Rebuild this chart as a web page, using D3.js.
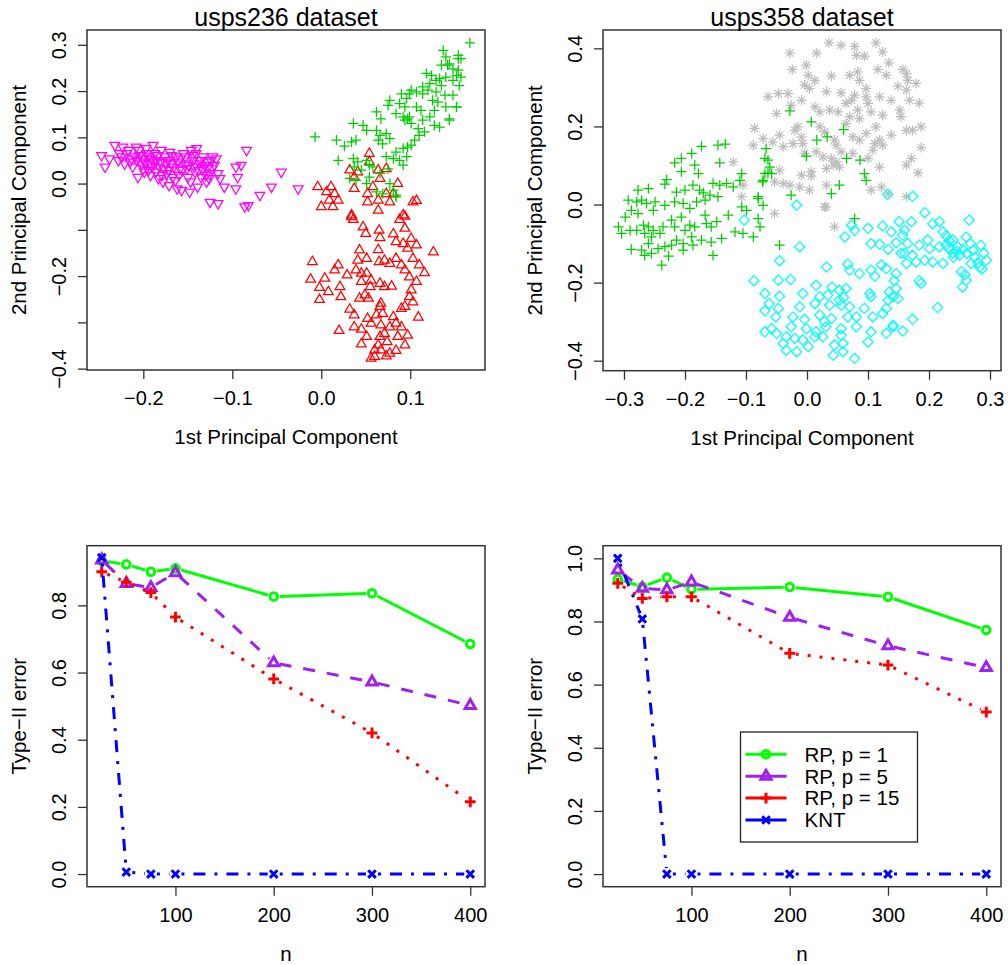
<!DOCTYPE html>
<html>
<head>
<meta charset="utf-8">
<script src="https://cdn.jsdelivr.net/npm/d3@7"></script>
<style>
body { margin: 0; background: #fff; }
svg { display: block; font-family: "Liberation Sans", Arial, Helvetica, sans-serif; }
</style>
</head>
<body>
<svg width="1008" height="965"></svg>
<script>
// ---- usps236: first two principal components, one array per digit class ----
var pc236Magenta = [
  [-0.247,0.061],[-0.243,0.036],[-0.238,0.054],[-0.232,0.083],[-0.227,0.065],[-0.223,0.079],[-0.221,0.043],[-0.217,0.072],
  [-0.213,0.054],[-0.212,0.036],[-0.208,0.079],[-0.206,0.014],[-0.204,0.061],[-0.202,0.043],[-0.199,0.025],[-0.197,0.076],
  [-0.195,0.058],[-0.193,0.043],[-0.189,0.083],[-0.187,0.065],[-0.185,0.050],[-0.182,0.036],[-0.178,0.004],[-0.176,0.058],
  [-0.174,0.022],[-0.170,0.068],[-0.169,0.043],[-0.167,0.014],[-0.163,0.058],[-0.159,0.032],[-0.157,-0.014],[-0.155,0.065],
  [-0.152,0.043],[-0.150,0.014],[-0.146,0.072],[-0.144,0.050],[-0.142,0.025],[-0.140,0.076],[-0.139,-0.007],[-0.137,0.043],
  [-0.135,0.014],[-0.133,0.058],[-0.129,0.004],[-0.127,0.036],[-0.125,0.022],[-0.124,0.050],[-0.122,0.058],[-0.118,0.054],
  [-0.116,0.022],[-0.114,0.011],[-0.109,-0.007],[-0.125,-0.040],[-0.116,-0.043],[-0.096,0.036],[-0.094,0.014],[-0.096,-0.011],
  [-0.090,0.040],[-0.084,0.072],[-0.069,-0.025],[-0.086,-0.050],[-0.082,-0.047],[-0.056,-0.007],[-0.045,0.025],[-0.026,-0.011],
  [-0.228,0.050],[-0.224,0.058],[-0.219,0.065],[-0.215,0.047],[-0.210,0.058],[-0.207,0.050],[-0.205,0.072],[-0.201,0.054],
  [-0.200,0.032],[-0.198,0.047],[-0.196,0.065],[-0.194,0.029],[-0.191,0.054],[-0.190,0.036],[-0.188,0.047],[-0.186,0.025],
  [-0.184,0.061],[-0.181,0.047],[-0.180,0.072],[-0.177,0.032],[-0.175,0.045],[-0.172,0.050],[-0.171,0.029],[-0.168,0.061],
  [-0.166,0.036],[-0.164,0.007],[-0.161,0.047],[-0.160,0.018],[-0.158,0.054],[-0.156,0.029],[-0.153,0.058],[-0.151,0.032],
  [-0.149,0.040],[-0.147,0.004],[-0.145,0.061],[-0.143,0.036],[-0.141,0.065],[-0.138,0.029],[-0.136,0.050],[-0.134,0.032],
  [-0.131,0.040],[-0.130,0.018],[-0.128,0.047],[-0.126,0.011],[-0.123,0.032],[-0.120,0.040],[-0.171,-0.004],[-0.162,-0.011],
  [-0.148,-0.018],[-0.183,0.011],[-0.192,0.018],[-0.179,0.018]
];

var pc236Red = [
  [0.054,0.065],[0.032,0.029],[0.037,0.014],[0.041,0.025],[0.054,0.047],[0.064,0.029],[0.073,0.032],[0.066,0.011],
  [0.037,-0.011],[-0.004,-0.007],[0.006,-0.018],[0.011,-0.007],[0.015,-0.022],[0.019,-0.036],[0.009,-0.036],[0.000,-0.050],
  [0.013,-0.050],[0.052,-0.022],[0.058,-0.007],[0.064,-0.036],[0.052,-0.040],[0.073,-0.022],[0.077,-0.040],[0.086,0.000],
  [0.081,-0.022],[0.103,-0.040],[0.107,-0.037],[0.064,-0.058],[0.034,-0.068],[0.092,-0.068],
  [0.034,-0.072],[0.036,-0.078],[0.047,-0.094],[0.050,-0.108],[0.065,-0.101],[0.066,-0.117],[0.088,-0.078],[0.094,-0.071],
  [0.094,-0.097],[0.081,-0.109],[0.084,-0.126],[0.092,-0.130],[0.101,-0.119],[0.107,-0.133],[0.097,-0.140],[0.126,-0.148],
  [0.043,-0.144],[0.064,-0.143],[0.041,-0.166],[0.051,-0.162],[-0.010,-0.169],[0.019,-0.176],[0.015,-0.187],[0.029,-0.198],
  [0.039,-0.187],[0.045,-0.194],[0.051,-0.194],[0.065,-0.169],[0.071,-0.166],[0.077,-0.173],[0.084,-0.162],[0.090,-0.176],
  [0.094,-0.187],[0.103,-0.162],[0.110,-0.176],[0.116,-0.193],[0.099,-0.202],[0.107,-0.212],[-0.012,-0.207],[0.004,-0.205],
  [-0.002,-0.225],[0.008,-0.234],[0.021,-0.223],[0.022,-0.245],[-0.002,-0.251],[0.045,-0.212],[0.056,-0.209],[0.066,-0.216],
  [0.071,-0.223],[0.079,-0.222],[0.055,-0.223],[0.049,-0.241],[0.053,-0.248],[0.043,-0.248],[0.101,-0.230],[0.099,-0.245],
  [0.103,-0.256],[0.094,-0.266],[0.067,-0.259],[0.066,-0.266],[0.032,-0.272],[0.037,-0.284],[0.052,-0.292],[0.062,-0.284],
  [0.069,-0.281],[0.081,-0.288],[0.090,-0.270],[0.109,-0.289],[0.020,-0.318],[0.037,-0.310],[0.045,-0.315],[0.056,-0.302],
  [0.067,-0.306],[0.077,-0.310],[0.084,-0.302],[0.090,-0.310],[0.097,-0.328],[0.086,-0.331],[0.066,-0.331],[0.071,-0.324],
  [0.051,-0.331],[0.045,-0.347],[0.064,-0.349],[0.074,-0.342],[0.094,-0.349],[0.060,-0.360],[0.067,-0.360],[0.077,-0.367],
  [0.084,-0.361],[0.060,-0.374],[0.073,-0.373],[0.056,-0.378]
];

var pc236Green = [
  [0.167,0.304],[0.137,0.288],[0.140,0.274],[0.154,0.277],[0.157,0.270],[0.144,0.259],[0.135,0.256],[0.148,0.248],
  [0.154,0.245],[0.152,0.234],[0.140,0.230],[0.129,0.223],[0.124,0.234],[0.118,0.238],[0.122,0.216],[0.135,0.212],
  [0.148,0.223],[0.155,0.212],[0.114,0.209],[0.101,0.202],[0.107,0.198],[0.099,0.194],[0.090,0.194],[0.096,0.184],
  [0.120,0.202],[0.129,0.198],[0.139,0.191],[0.131,0.176],[0.127,0.158],[0.140,0.166],[0.152,0.166],[0.107,0.166],
  [0.112,0.158],[0.122,0.144],[0.094,0.166],[0.088,0.173],[0.077,0.180],[0.075,0.169],[0.084,0.151],[0.092,0.144],
  [0.097,0.140],[0.101,0.130],[0.109,0.119],[0.116,0.112],[0.127,0.126],[0.133,0.122],[0.144,0.137],[0.114,0.137],
  [0.062,0.155],[0.067,0.140],[0.036,0.130],[0.047,0.126],[0.051,0.115],[0.062,0.115],[0.066,0.104],[0.073,0.108],
  [0.064,0.094],[0.077,0.097],[0.069,0.086],[0.039,0.094],[0.034,0.090],[0.017,0.094],[0.026,0.081],[-0.007,0.101],
  [0.019,0.050],[0.036,0.054],[0.041,0.047],[0.051,0.050],[0.054,0.040],[0.045,0.029],[0.058,0.036],[0.073,0.058],
  [0.081,0.054],[0.084,0.068],[0.092,0.076],[0.097,0.079],[0.101,0.083],[0.105,0.094],[0.110,0.104],[0.096,0.058],
  [0.088,0.050],[0.092,0.040],[0.075,0.032],[0.066,0.022],[0.054,0.014],[0.039,0.007],[0.062,-0.018],[0.069,-0.022],
  [0.077,0.000],[0.081,-0.014],[0.084,-0.025],[0.032,0.011],[0.037,0.036],[0.051,0.000],[0.084,-0.029],
  [0.133,0.227],[0.142,0.256],[0.154,0.270],[0.157,0.230],[0.148,0.191],[0.125,0.180],[0.114,0.194],[0.099,0.144],
  [0.094,0.137],[0.144,0.140],[0.152,0.166]
];

// ---- usps358 ----
var pc358Grey = [
  [-0.028,0.388],[0.016,0.388],[0.036,0.414],[0.056,0.408],[0.078,0.405],[0.081,0.382],[0.094,0.380],[0.113,0.414],
  [0.124,0.391],[-0.024,0.346],[-0.001,0.357],[0.002,0.331],[0.013,0.318],[-0.004,0.306],[0.004,0.297],[0.032,0.289],
  [0.040,0.329],[0.070,0.331],[0.083,0.340],[0.086,0.318],[0.097,0.297],[0.116,0.346],[0.130,0.331],[0.134,0.363],
  [0.157,0.346],[0.163,0.335],[0.165,0.318],[0.179,0.310],[0.149,0.303],[0.163,0.293],[0.168,0.267],[0.184,0.260],
  [0.138,0.267],[0.119,0.276],[0.097,0.276],[0.100,0.259],[0.078,0.280],[0.073,0.267],[0.056,0.286],[0.064,0.259],
  [-0.064,0.276],[-0.047,0.284],[-0.031,0.284],[-0.026,0.254],[-0.009,0.267],[0.013,0.250],[0.021,0.237],[0.037,0.242],
  [0.051,0.237],[0.070,0.225],[0.083,0.242],[0.086,0.220],[0.105,0.237],[0.124,0.229],[0.152,0.242],[0.154,0.225],
  [-0.050,0.233],[-0.086,0.195],[-0.072,0.169],[-0.088,0.152],[-0.045,0.178],[-0.056,0.160],[-0.039,0.148],[-0.020,0.190],
  [-0.015,0.199],[-0.009,0.173],[-0.023,0.156],[0.021,0.199],[0.029,0.186],[0.045,0.165],[0.048,0.152],[0.064,0.207],
  [0.075,0.173],[0.086,0.165],[0.097,0.182],[0.113,0.199],[0.119,0.165],[0.124,0.152],[0.108,0.139],[0.138,0.178],
  [0.163,0.190],[0.173,0.190],[0.187,0.199],[0.187,0.146],[-0.007,0.156],[-0.004,0.131],[0.015,0.135],[0.026,0.122],
  [0.040,0.118],[0.048,0.109],[0.053,0.096],[0.056,0.135],[0.075,0.131],[0.100,0.118],[0.111,0.156],[0.119,0.096],
  [0.163,0.101],[0.171,0.118],[0.182,0.081],[-0.045,0.088],[-0.053,0.058],[-0.039,0.054],[-0.028,0.050],[-0.009,0.075],
  [0.007,0.073],[0.004,0.037],[0.032,0.092],[0.032,0.050],[0.043,0.101],[0.029,-0.006],[0.007,0.084],[-0.012,0.045],
  [0.122,0.045],[0.133,0.028],[0.163,0.020],[-0.053,-0.023],[0.045,-0.057],[0.105,0.037],[-0.121,0.109],[-0.107,0.020],
  [-0.105,0.050],[0.031,-0.006]
];

var pc358Cyan = [
  [-0.017,-0.002],[0.073,-0.053],[0.078,-0.066],[0.062,-0.083],[0.100,-0.061],[0.124,-0.055],[0.138,-0.070],[0.151,-0.044],
  [0.160,-0.066],[0.171,-0.044],[0.157,-0.079],[0.193,-0.021],[0.206,-0.049],[0.217,-0.044],[0.223,-0.070],[0.266,-0.040],
  [0.105,-0.100],[0.119,-0.102],[0.133,-0.115],[0.146,-0.098],[0.165,-0.100],[0.154,-0.125],[0.184,-0.104],[0.198,-0.091],
  [0.201,-0.113],[0.217,-0.108],[0.228,-0.104],[0.239,-0.091],[0.247,-0.108],[0.261,-0.083],[0.272,-0.117],[0.285,-0.104],
  [0.294,-0.143],[0.283,-0.160],[0.269,-0.151],[0.253,-0.172],[0.261,-0.194],[0.255,-0.211],[0.239,-0.125],[0.233,-0.113],
  [0.223,-0.151],[0.206,-0.147],[0.193,-0.143],[0.179,-0.147],[0.163,-0.151],[0.160,-0.125],[0.173,-0.130],[-0.012,-0.108],
  [-0.045,-0.144],[0.032,-0.160],[0.067,-0.153],[0.070,-0.168],[0.086,-0.177],[0.105,-0.168],[0.111,-0.184],[0.122,-0.155],
  [0.130,-0.164],[0.146,-0.177],[0.143,-0.195],[0.187,-0.202],[0.184,-0.195],[-0.087,-0.195],[-0.047,-0.194],[-0.027,-0.192],
  [-0.069,-0.228],[-0.045,-0.235],[-0.062,-0.254],[-0.069,-0.272],[-0.047,-0.266],[-0.051,-0.288],[-0.007,-0.228],[-0.012,-0.262],
  [-0.023,-0.288],[-0.004,-0.294],[0.015,-0.207],[0.021,-0.236],[0.013,-0.254],[0.034,-0.232],[0.041,-0.211],[0.053,-0.219],
  [0.064,-0.215],[0.060,-0.238],[0.056,-0.258],[0.070,-0.262],[0.067,-0.288],[0.081,-0.288],[0.081,-0.313],[0.094,-0.266],
  [0.103,-0.228],[0.105,-0.236],[0.108,-0.288],[0.105,-0.326],[0.100,-0.352],[0.124,-0.279],[0.133,-0.245],[0.135,-0.224],
  [0.141,-0.236],[0.146,-0.215],[0.149,-0.241],[0.130,-0.266],[0.141,-0.309],[0.157,-0.324],[0.173,-0.294],[0.214,-0.264],
  [0.021,-0.283],[0.029,-0.300],[0.040,-0.292],[0.031,-0.313],[0.015,-0.326],[0.013,-0.339],[-0.001,-0.318],[-0.007,-0.347],
  [-0.020,-0.343],[-0.026,-0.313],[-0.034,-0.339],[-0.039,-0.356],[-0.034,-0.373],[-0.017,-0.377],[0.002,-0.364],[0.026,-0.339],
  [0.056,-0.318],[0.056,-0.335],[0.059,-0.356],[0.045,-0.360],[0.043,-0.386],[0.059,-0.377],[0.078,-0.394],[-0.069,-0.326],
  [-0.058,-0.318],[-0.050,-0.330],[0.037,-0.258],[0.053,-0.245],[0.130,-0.330],[0.141,-0.313],[0.132,0.026],[0.173,0.021],
  [-0.103,-0.040],[0.245,-0.120],[0.250,-0.130],[0.255,-0.115],[0.262,-0.125],[0.240,-0.135],[0.275,-0.135],[0.280,-0.150],
  [0.290,-0.125],[0.268,-0.100],[0.287,-0.165],[0.259,-0.180],[0.233,-0.092],[0.228,-0.080]
];

var pc358Green = [
  [-0.173,0.149],[-0.146,0.152],[-0.134,0.155],[-0.143,0.107],[-0.217,0.107],[-0.206,0.118],[-0.189,0.131],[-0.184,0.101],
  [-0.206,0.084],[-0.178,0.079],[-0.230,0.064],[-0.233,0.052],[-0.277,0.037],[-0.260,0.041],[-0.214,0.032],[-0.200,0.037],
  [-0.187,0.050],[-0.176,0.037],[-0.170,0.030],[-0.154,0.054],[-0.143,0.050],[-0.132,0.054],[-0.121,0.045],[-0.110,0.062],
  [-0.107,0.079],[-0.293,0.011],[-0.279,0.007],[-0.271,0.011],[-0.263,0.003],[-0.249,0.007],[-0.252,-0.015],[-0.233,-0.002],
  [-0.217,0.007],[-0.203,0.003],[-0.192,-0.010],[-0.181,0.007],[-0.167,0.011],[-0.159,0.024],[-0.146,0.020],[-0.298,-0.032],
  [-0.288,-0.015],[-0.277,-0.023],[-0.309,-0.057],[-0.304,-0.074],[-0.290,-0.066],[-0.279,-0.066],[-0.268,-0.053],[-0.266,-0.074],
  [-0.260,-0.057],[-0.255,-0.083],[-0.252,-0.066],[-0.241,-0.074],[-0.236,-0.057],[-0.222,-0.040],[-0.217,-0.057],[-0.206,-0.032],
  [-0.200,-0.066],[-0.192,-0.053],[-0.184,-0.057],[-0.167,-0.027],[-0.165,-0.049],[-0.157,-0.057],[-0.148,-0.044],[-0.129,-0.027],
  [-0.107,-0.006],[-0.099,-0.015],[-0.080,0.015],[-0.072,-0.002],[-0.080,-0.036],[-0.077,-0.057],[-0.118,-0.070],[-0.105,-0.074],
  [-0.088,-0.083],[-0.140,-0.087],[-0.157,-0.096],[-0.173,-0.091],[-0.189,-0.083],[-0.214,-0.091],[-0.203,-0.100],[-0.222,-0.104],
  [-0.233,-0.108],[-0.244,-0.113],[-0.260,-0.100],[-0.271,-0.117],[-0.288,-0.115],[-0.266,-0.130],[-0.255,-0.125],[-0.227,-0.132],
  [-0.203,-0.117],[-0.187,-0.104],[-0.154,-0.130],[-0.238,-0.155],[-0.045,-0.104],[-0.069,0.118],[-0.061,0.096],[-0.064,0.081],
  [-0.072,0.062],[-0.026,0.024],[-0.028,0.240],[0.007,0.212],[0.016,0.165],[0.033,0.173],[0.060,0.192],[-0.001,0.124],
  [0.065,0.118],[0.087,0.114],[0.094,0.079],[0.097,0.062],[0.053,0.050],[0.040,0.028],[-0.067,0.143],[-0.064,0.114],
  [-0.069,0.079],[-0.058,0.079],[-0.073,0.058],[-0.080,0.020],[0.078,-0.036]
];

// ---- Type-II error versus sample size n ----
var nValues = [25, 50, 75, 100, 200, 300, 400];
var err236P1 = [0.932, 0.922, 0.900, 0.910, 0.826, 0.836, 0.685];
var err236P5 = [0.935, 0.865, 0.853, 0.897, 0.629, 0.572, 0.502];
var err236P15 = [0.900, 0.869, 0.838, 0.765, 0.581, 0.420, 0.215];
var err236KNT = [0.942, 0.006, 0, 0, 0, 0, 0];
var err358P1 = [0.934, 0.910, 0.939, 0.902, 0.909, 0.878, 0.773];
var err358P5 = [0.963, 0.905, 0.900, 0.925, 0.813, 0.723, 0.654];
var err358P15 = [0.921, 0.873, 0.878, 0.878, 0.699, 0.662, 0.513];
var err358KNT = [1.0, 0.808, 0, 0, 0, 0, 0];
var seriesNames = ["RP, p = 1", "RP, p = 5", "RP, p = 15", "KNT"];

// tick values and which of them R actually labelled
var xTicks236 = [-0.2, -0.1, 0.0, 0.1];
var yTicks236 = [-0.4, -0.3, -0.2, -0.1, 0.0, 0.1, 0.2, 0.3];
var yLabels236 = [-0.4, -0.2, 0.0, 0.1, 0.2, 0.3];
var xTicks358 = [-0.3, -0.2, -0.1, 0.0, 0.1, 0.2, 0.3];
var yTicks358 = [-0.4, -0.2, 0.0, 0.2, 0.4];
var nTicks = [100, 200, 300, 400];
var errTicksLeft = [0.0, 0.2, 0.4, 0.6, 0.8];
var errTicksRight = [0.0, 0.2, 0.4, 0.6, 0.8, 1.0];

var svg = d3.select("svg");
var fmt = d3.format(".1f");

var seriesColors = ["#00FF00", "#A020F0", "#FF0000", "#0000FF"],
    seriesDash = [null, "12,12", "3,9", "3,9,12,9"],
    seriesShape = ["circle", "triUp", "plus", "cross"];

// R style plotting symbols, centred on 0,0
var symbolPath = function (shape, u) {
    var h = Math.SQRT2 * u;
    var r = 1.5551 * u, xc = 1.3468 * u, yc = 0.7776 * u;
    switch (shape) {
        case "circle": return "M" + u + ",0A" + u + "," + u + " 0 1,1 " + (-u) + ",0A" + u + "," + u + " 0 1,1 " + u + ",0Z";
        case "triUp": return "M0," + (-r) + "L" + xc + "," + yc + "L" + (-xc) + "," + yc + "Z";
        case "triDown": return "M0," + r + "L" + xc + "," + (-yc) + "L" + (-xc) + "," + (-yc) + "Z";
        case "plus": return "M" + (-h) + ",0H" + h + "M0," + (-h) + "V" + h;
        case "cross": return "M" + (-u) + "," + (-u) + "L" + u + "," + u + "M" + (-u) + "," + u + "L" + u + "," + (-u);
        case "diamond": return "M0," + (-h) + "L" + h + ",0L0," + h + "L" + (-h) + ",0Z";
        case "asterisk": return "M" + (-u) + "," + (-u) + "L" + u + "," + u + "M" + (-u) + "," + u + "L" + u + "," + (-u) +
            "M" + (-h) + ",0H" + h + "M0," + (-h) + "V" + h;
    }
};

var makePanel = function (left, right, top, bottom, xDom, yDom) {
    return {
        left: left, right: right, top: top, bottom: bottom,
        x: d3.scaleLinear().domain(xDom).range([left, right]),
        y: d3.scaleLinear().domain(yDom).range([bottom, top])
    };
};

var drawFrame = function (p, xTicks, yTicks, yLabels, xTitle, yTitle, title) {
    var g = svg.append("g");
    g.append("rect")
        .attr("x", p.left).attr("y", p.top)
        .attr("width", p.right - p.left).attr("height", p.bottom - p.top)
        .attr("fill", "none").attr("stroke", "#333").attr("stroke-width", 1.5);

    var xa = g.append("g")
        .attr("transform", "translate(0," + p.bottom + ")")
        .call(d3.axisBottom(p.x).tickValues(xTicks).tickSize(9).tickPadding(12).tickFormat(function (d) {
            return xTicks[0] > 1 ? d3.format("d")(d) : fmt(d);
        }));
    xa.select(".domain").remove();

    var ya = g.append("g")
        .attr("transform", "translate(" + p.left + ",0)")
        .call(d3.axisLeft(p.y).tickValues(yTicks).tickSize(9).tickFormat(function (d) {
            var hit = yLabels.some(function (v) { return Math.abs(v - d) < 1e-9; });
            return hit ? fmt(d) : "";
        }));
    ya.select(".domain").remove();
    ya.selectAll(".tick text")
        .attr("transform", "rotate(-90)")
        .attr("x", 0).attr("y", -21).attr("dy", 0)
        .attr("text-anchor", "middle");

    g.selectAll(".tick line").attr("stroke", "#333").attr("stroke-width", 1.3);
    g.selectAll(".tick text")
        .attr("fill", "#000")
        .style("font-size", "20px")
        .style("font-family", "'Liberation Sans', Arial, sans-serif");

    var cx = (p.left + p.right) / 2, cy = (p.top + p.bottom) / 2;
    g.append("text")
        .attr("x", cx).attr("y", p.bottom + 74)
        .attr("text-anchor", "middle").style("font-size", "20.5px")
        .text(xTitle);
    g.append("text")
        .attr("transform", "translate(" + (p.left - 61) + "," + cy + ") rotate(-90)")
        .attr("text-anchor", "middle").style("font-size", "20.5px")
        .text(yTitle);
    if (title) {
        g.append("text")
            .attr("x", cx).attr("y", p.top - 4)
            .attr("text-anchor", "middle").style("font-size", "25px")
            .text(title);
    }
};

var drawScatter = function (p, points, shape, color) {
    var g = svg.append("g");
    g.selectAll("path")
        .data(points)
        .enter().append("path")
        .attr("transform", function (d) { return "translate(" + p.x(d[0]) + "," + p.y(d[1]) + ")"; })
        .attr("d", symbolPath(shape, 3.6))
        .attr("fill", "none")
        .attr("stroke", color)
        .attr("stroke-width", 1.25);
};

// type = "b": segments stop short of the points
var drawSeries = function (p, values, i) {
    var g = svg.append("g");
    var pts = values.map(function (v, k) { return [p.x(nValues[k]), p.y(v)]; });
    var gap = 6;
    var segs = [];
    for (var k = 0; k < pts.length - 1; k++) {
        var a = pts[k], b = pts[k + 1];
        var dx = b[0] - a[0], dy = b[1] - a[1], len = Math.sqrt(dx * dx + dy * dy);
        if (len > 2 * gap) {
            var ux = dx / len, uy = dy / len;
            segs.push([[a[0] + ux * gap, a[1] + uy * gap], [b[0] - ux * gap, b[1] - uy * gap]]);
        }
    }
    g.selectAll("path.seg")
        .data(segs)
        .enter().append("path")
        .attr("class", "seg")
        .attr("d", d3.line())
        .attr("fill", "none")
        .attr("stroke", seriesColors[i])
        .attr("stroke-width", 3)
        .attr("stroke-dasharray", seriesDash[i]);
    g.selectAll("path.pt")
        .data(pts)
        .enter().append("path")
        .attr("class", "pt")
        .attr("transform", function (d) { return "translate(" + d[0] + "," + d[1] + ")"; })
        .attr("d", symbolPath(seriesShape[i], 3.8))
        .attr("fill", "none")
        .attr("stroke", seriesColors[i])
        .attr("stroke-width", 3);
};

// ---- panels ----
var tl = makePanel(87, 485, 30, 370, [-0.2633, 0.184], [-0.403, 0.332]);
var tr = makePanel(603, 1001, 30, 370.7, [-0.3344, 0.318], [-0.4256, 0.447]);
var bl = makePanel(87, 485, 545.7, 886.7, [10, 415], [-0.0376, 0.9776]);
var br = makePanel(603, 1001, 545.7, 886.7, [10, 415], [-0.04, 1.04]);

drawScatter(tl, pc236Magenta, "triDown", "#FF00FF");
drawScatter(tl, pc236Red, "triUp", "#FF0000");
drawScatter(tl, pc236Green, "plus", "#00CD00");
drawFrame(tl, xTicks236, yTicks236, yLabels236, "1st Principal Component", "2nd Principal Component", "usps236 dataset");

drawScatter(tr, pc358Grey, "asterisk", "#BEBEBE");
drawScatter(tr, pc358Cyan, "diamond", "#00FFFF");
drawScatter(tr, pc358Green, "plus", "#00CD00");
drawFrame(tr, xTicks358, yTicks358, yTicks358, "1st Principal Component", "2nd Principal Component", "usps358 dataset");

[err236P1, err236P5, err236P15, err236KNT].forEach(function (s, i) { drawSeries(bl, s, i); });
drawFrame(bl, nTicks, errTicksLeft, errTicksLeft, "n", "Type\u2212II error", null);

[err358P1, err358P5, err358P15, err358KNT].forEach(function (s, i) { drawSeries(br, s, i); });
drawFrame(br, nTicks, errTicksRight, errTicksRight, "n", "Type\u2212II error", null);

// ---- legend (bottom right) ----
var legend = svg.append("g").attr("transform", "translate(740.5,732)");
legend.append("rect")
    .attr("width", 177).attr("height", 110)
    .attr("fill", "#fff").attr("stroke", "#222").attr("stroke-width", 1.3);
var rows = legend.selectAll("g.row")
    .data(seriesNames)
    .enter().append("g")
    .attr("class", "row")
    .attr("transform", function (d, i) { return "translate(0," + (22.3 + i * 21.9) + ")"; });
rows.append("line")
    .attr("x1", 5).attr("x2", 46)
    .attr("stroke", function (d, i) { return seriesColors[i]; })
    .attr("stroke-width", 3);
rows.append("path")
    .attr("transform", "translate(25.5,0)")
    .attr("d", function (d, i) { return symbolPath(seriesShape[i], 3.8); })
    .attr("fill", "none")
    .attr("stroke", function (d, i) { return seriesColors[i]; })
    .attr("stroke-width", 3);
rows.append("text")
    .attr("x", 64).attr("dy", "0.36em")
    .style("font-size", "20.5px")
    .text(function (d) { return d; });
</script>
</body>
</html>
